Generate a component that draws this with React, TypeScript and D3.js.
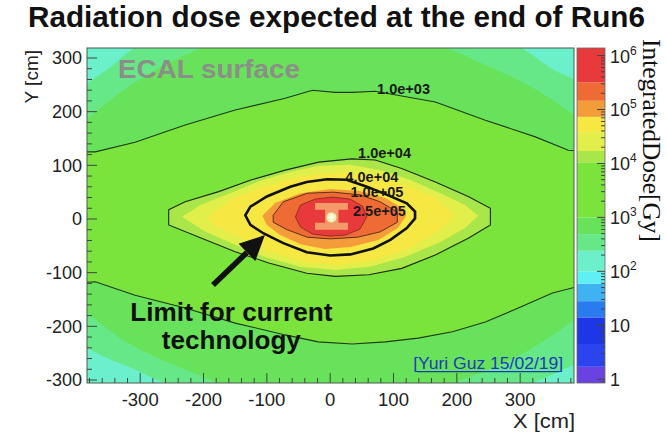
import * as d3 from "d3";

// axis ticks
const xTicks = [-300, -200, -100, 0, 100, 200, 300];
const yTicks = [-300, -200, -100, 0, 100, 200, 300];
const zTicks = [1, 10, 100, 1e3, 1e4, 1e5, 1e6];

// palette: band edges (Gy) and band colours, bottom to top
const zMin = Math.pow(10, -0.07);
const zMax = Math.pow(10, 6.14);
const zEdges = [zMin, 1.7, 4.5, 14, 28, 59, 100, 240, 490, 1e3, 1.05e4, 1.7e4, 3.8e4, 7.3e4, 1.45e5, 3.2e5, zMax];
const zColors = [
  "#6a42e2", "#2c44f0", "#1c36e8", "#2a7cee", "#3fb2f2", "#5ef0f2", "#6cf0cc", "#66e888",
  "#68e25a", "#7ae43c", "#a8e64a", "#e2ee4a", "#f7e743", "#f59c3a", "#ef6b35", "#e8393b",
];

// iso-dose shapes, [x cm, y cm]
const region250 = [[-290, 330], [0, 380], [280, 330], [350, 280], [410, 235], [430, 0], [410, -245], [350, -290], [250, -330], [0, -370], [-200, -330], [-300, -285], [-410, -210], [-430, 0], [-410, 215], [-345, 285]];
const region500 = [[-430, 120], [-340, 228], [-230, 305], [-120, 350], [0, 365], [110, 350], [230, 295], [340, 230], [430, 135], [445, 0], [430, -130], [340, -225], [230, -290], [110, -330], [0, -345], [-110, -330], [-230, -280], [-340, -215], [-430, -110], [-445, 0]];
const line1e3 = [[-400, 125], [-371, 125], [-308, 143], [-229, 175], [-150, 203], [-71, 225], [-28, 240], [8, 236], [35, 236], [71, 238], [166, 218], [245, 184], [324, 153], [376, 128], [400, 126], [400, -123], [351, -138], [297, -166], [245, -192], [193, -210], [139, -222], [87, -229], [35, -233], [-19, -229], [-71, -216], [-150, -194], [-229, -166], [-308, -142], [-371, -117], [-400, -119]];
const line1e4 = [[-255, 17], [-229, 32], [-176, 51], [-124, 73], [-71, 91], [-18, 106], [34, 112], [71, 110], [113, 94], [166, 69], [218, 42], [253, 20], [253, -11], [218, -36], [166, -67], [113, -92], [61, -104], [8, -107], [-37, -101], [-97, -82], [-150, -61], [-203, -36], [-255, -11]];
const region17e3 = [[-234, 4], [-205, 26], [-158, 48], [-111, 71], [-63, 88], [-16, 99], [32, 101], [79, 91], [126, 73], [174, 48], [213, 26], [234, 6], [213, -17], [174, -43], [118, -71], [63, -89], [8, -95], [-47, -89], [-103, -71], [-150, -48], [-197, -24]];
const region38e3 = [[-194, 4], [-158, 35], [-111, 58], [-63, 74], [-19, 84], [24, 86], [71, 80], [118, 63], [166, 39], [197, 9], [174, -20], [126, -54], [71, -76], [16, -86], [-39, -80], [-95, -61], [-142, -35], [-182, -13]];
const line4e4 = [[-134, 7], [-126, 23], [-100, 42], [-63, 60], [-37, 69], [-5, 74], [26, 73], [58, 60], [90, 45], [121, 29], [134, 14], [134, 1], [121, -17], [95, -39], [68, -55], [32, -66], [0, -68], [-37, -62], [-74, -45], [-105, -27], [-126, -11]];
const region73e3 = [[-107, 6], [-87, 30], [-47, 48], [0, 56], [47, 52], [87, 39], [114, 20], [120, 6], [107, -17], [76, -39], [32, -52], [-8, -56], [-47, -47], [-79, -30], [-100, -11]];
const line1e5 = [[-90, 7], [-74, 32], [-36, 48], [5, 50], [47, 45], [79, 32], [106, 13], [106, -6], [79, -24], [43, -34], [0, -37], [-36, -34], [-68, -20], [-90, -6]];
const line25e4 = [[-55, 4], [-47, 26], [-24, 37], [3, 41], [32, 37], [51, 24], [58, 4], [47, -19], [24, -30], [0, -32], [-28, -28], [-47, -15]];
// beam-pipe hole
const beamHole = [[-24, 30], [28, 30], [28, 17], [13, 17], [13, -7], [28, -7], [28, -20], [-24, -20], [-24, -7], [-8, -7], [-8, 17], [-24, 17]];

// contour labels: text, x cm, y cm
const contourLabels = [
  ["1.0e+03", 74, 233],
  ["1.0e+04", 44, 114],
  ["4.0e+04", 24, 69],
  ["1.0e+05", 32, 41],
  ["2.5e+05", 36, 6],
];

const sans = "'Liberation Sans', Arial, Helvetica, sans-serif";
const serif = "'Liberation Serif', 'Times New Roman', serif";

export default function App() {
  const W = 667, H = 433;
  const L = 87, R = 574, T = 48, B = 383;
  const barL = 577, barR = 605;

  const x = d3.scaleLinear().domain([-384, 385]).range([L, R]);
  const y = d3.scaleLinear().domain([-305.6, 318.6]).range([B, T]);
  const z = d3.scaleLog().domain([zMin, zMax]).range([B, T]);

  const sharp = d3.line<number[]>().x(d => x(d[0])).y(d => y(d[1])).curve(d3.curveLinearClosed);
  const smooth = d3.line<number[]>().x(d => x(d[0])).y(d => y(d[1])).curve(d3.curveCatmullRomClosed);

  const fills: [number[][], number, boolean][] = [
    [region250, 7, true],
    [region500, 8, true],
    [line1e3, 9, false],
    [line1e4, 10, false],
    [region17e3, 11, false],
    [region38e3, 12, false],
    [region73e3, 13, false],
    [line1e5, 14, false],
    [line25e4, 15, false],
  ];

  const xMinor = d3.range(-380, 381, 20).filter(v => v % 100 !== 0);
  const yMinor = d3.range(-300, 318, 20).filter(v => v % 100 !== 0);
  const zMinor: number[] = [];
  for (let e = -1; e < 7; e++) {
    for (let m = 2; m < 10; m++) {
      const v = m * Math.pow(10, e);
      if (v > zMin && v < zMax) zMinor.push(v);
    }
  }

  // arrow
  const tail = [x(-185), y(-123)];
  const tip = [x(-103), y(-30)];
  const len = Math.hypot(tip[0] - tail[0], tip[1] - tail[1]);
  const ux = (tip[0] - tail[0]) / len, uy = (tip[1] - tail[1]) / len;
  const hl = 25, hw = 12;
  const bx = tip[0] - ux * hl, by = tip[1] - uy * hl;
  const head = `${tip[0]},${tip[1]} ${bx - uy * hw},${by + ux * hw} ${bx + uy * hw},${by - ux * hw}`;

  return (
    <svg width={W} height={H} style={{ position: "absolute", left: 0, top: 0, background: "#fff" }}>
      <defs>
        <clipPath id="plotClip">
          <rect x={L} y={T} width={R - L} height={B - T} />
        </clipPath>
      </defs>

      <text x={28} y={27} fontFamily={sans} fontWeight="bold" fontSize={29} textLength={617} lengthAdjust="spacingAndGlyphs" fill="#111">
        Radiation dose expected at the end of Run6
      </text>

      <g clipPath="url(#plotClip)">
        <rect x={L} y={T} width={R - L} height={B - T} fill={zColors[6]} />
        {fills.map(([shape, band, isSmooth], i) => (
          <path key={i} d={(isSmooth ? smooth : sharp)(shape) || ""} fill={zColors[band]} />
        ))}
        <path d={sharp(beamHole) || ""} fill="#f39a68" />
        <circle cx={x(2)} cy={y(3)} r={5} fill="#eef2b4" />
        <line x1={x(2) - 3} x2={x(2) + 3} y1={y(3)} y2={y(3)} stroke="#fff" strokeWidth={1.5} />
        <line x1={x(2)} x2={x(2)} y1={y(3) - 3} y2={y(3) + 3} stroke="#fff" strokeWidth={1.5} />

        <path d={sharp(line1e3) || ""} fill="none" stroke="#1d3a1d" strokeWidth={1.1} />
        <path d={sharp(line1e4) || ""} fill="none" stroke="#1d2a1d" strokeWidth={1.1} />
        <path d={sharp(line1e5) || ""} fill="none" stroke="#3a1a10" strokeWidth={1} opacity={0.8} />
        <path d={sharp(line25e4) || ""} fill="none" stroke="#3a1010" strokeWidth={1} opacity={0.5} />
        <path d={sharp(line4e4) || ""} fill="none" stroke="#111" strokeWidth={2.6} />

        {contourLabels.map(([t, cx, cy]) => (
          <text key={t as string} x={x(cx as number)} y={y(cy as number)} fontFamily={sans} fontWeight="bold" fontSize={14} textLength={53} lengthAdjust="spacingAndGlyphs" fill="#1a1a1a">
            {t}
          </text>
        ))}

        <text x={x(-335)} y={y(263)} fontFamily={sans} fontWeight="bold" fontSize={25} textLength={182} lengthAdjust="spacingAndGlyphs" fill="#8b8f88">
          ECAL surface
        </text>

        <line x1={tail[0]} y1={tail[1]} x2={bx} y2={by} stroke="#111" strokeWidth={5.5} />
        <polygon points={head} fill="#111" />

        <text x={x(-156)} y={y(-190)} textAnchor="middle" fontFamily={sans} fontWeight="bold" fontSize={25} textLength={202} lengthAdjust="spacingAndGlyphs" fill="#111">
          Limit for current
        </text>
        <text x={x(-156)} y={y(-242)} textAnchor="middle" fontFamily={sans} fontWeight="bold" fontSize={25} textLength={139} lengthAdjust="spacingAndGlyphs" fill="#111">
          technology
        </text>

        <text x={x(131)} y={y(-279)} fontFamily={sans} fontSize={17} textLength={150} lengthAdjust="spacingAndGlyphs" fill="#1c3cb8">
          [Yuri Guz 15/02/19]
        </text>
        <line x1={x(131) + 4} x2={x(131) + 146} y1={y(-279) + 3} y2={y(-279) + 3} stroke="#1c3cb8" strokeWidth={1.3} />
      </g>

      {/* frame and ticks */}
      <rect x={L} y={T} width={R - L} height={B - T} fill="none" stroke="#4a5a4a" strokeWidth={1} />
      {xTicks.map(v => (
        <line key={"xt" + v} x1={x(v)} x2={x(v)} y1={B} y2={B - 10} stroke="#3a4a3a" />
      ))}
      {xMinor.map(v => (
        <line key={"xm" + v} x1={x(v)} x2={x(v)} y1={B} y2={B - 5} stroke="#3a4a3a" />
      ))}
      {yTicks.map(v => (
        <line key={"yt" + v} x1={L} x2={L + 10} y1={y(v)} y2={y(v)} stroke="#3a4a3a" />
      ))}
      {yMinor.map(v => (
        <line key={"ym" + v} x1={L} x2={L + 5} y1={y(v)} y2={y(v)} stroke="#3a4a3a" />
      ))}

      {xTicks.map(v => (
        <text key={"xl" + v} x={x(v)} y={406} textAnchor="middle" fontFamily={sans} fontSize={18.5} fill="#222">
          {v}
        </text>
      ))}
      {yTicks.map(v => (
        <text key={"yl" + v} x={82} y={y(v) + 6.5} textAnchor="end" fontFamily={sans} fontSize={18} fill="#222">
          {v}
        </text>
      ))}

      <text x={575} y={428} textAnchor="end" fontFamily={sans} fontSize={20} textLength={62} lengthAdjust="spacingAndGlyphs" fill="#222">X [cm]</text>
      <text transform="translate(38,50) rotate(-90)" textAnchor="end" fontFamily={sans} fontSize={19} fill="#222">Y [cm]</text>

      {/* palette */}
      {zColors.map((c, i) => (
        <rect key={"zb" + i} x={barL} width={barR - barL} y={z(zEdges[i + 1])} height={z(zEdges[i]) - z(zEdges[i + 1])} fill={c} />
      ))}
      <rect x={barL} y={T} width={barR - barL} height={B - T} fill="none" stroke="#6a6a6a" strokeWidth={0.8} />
      {zTicks.map(v => (
        <line key={"zt" + v} x1={barR} x2={barR - 8} y1={z(v)} y2={z(v)} stroke="#444" />
      ))}
      {zMinor.map(v => (
        <line key={"zm" + v} x1={barR} x2={barR - 4} y1={z(v)} y2={z(v)} stroke="#444" />
      ))}
      {zTicks.map(v => {
        const e = Math.round(Math.log10(v));
        return (
          <text key={"zl" + v} x={610} y={z(v) + 7} fontFamily={sans} fontSize={18} fill="#222">
            {e === 0 ? "1" : "10"}
            {e > 1 ? <tspan dy={-8} fontSize={12}>{e}</tspan> : null}
          </text>
        );
      })}
      <text transform="translate(643,39) rotate(90)" fontFamily={serif} fontSize={25} textLength={203} lengthAdjust="spacingAndGlyphs" fill="#111">
        IntegratedDose[Gy]
      </text>
    </svg>
  );
}
